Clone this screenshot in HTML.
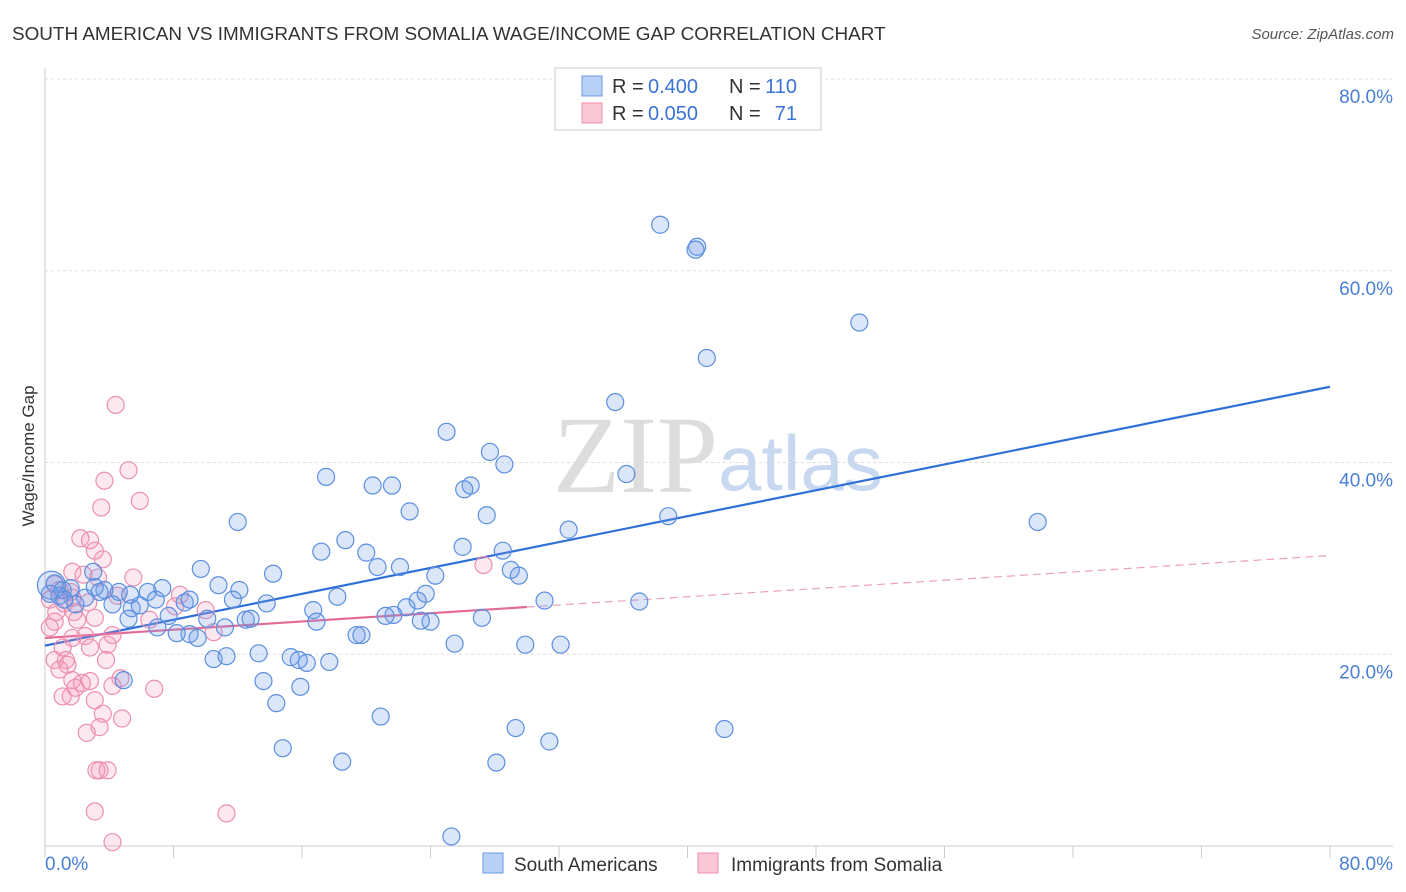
<!DOCTYPE html>
<html><head><meta charset="utf-8"><style>
body{margin:0;background:#fff;font-family:"Liberation Sans",sans-serif}
svg{display:block}
</style></head><body>
<svg id="chart" width="1406" height="892">
<text x="12" y="40" font-size="18.9" fill="#333">SOUTH AMERICAN VS IMMIGRANTS FROM SOMALIA WAGE/INCOME GAP CORRELATION CHART</text>
<text x="1394" y="39" font-size="15" fill="#555" font-style="italic" text-anchor="end">Source: ZipAtlas.com</text>
<g>
<text x="553" y="492" font-size="110" fill="#ddd" font-family="Liberation Serif,serif">ZIP</text>
<text x="718" y="490" font-size="78" fill="#c8d8f0">atlas</text>
</g>
<g id="grid"></g>
<g id="axes"></g>
<text transform="translate(34,456) rotate(-90)" font-size="17" fill="#333" text-anchor="middle">Wage/Income Gap</text>
<g id="trends"></g>
<g id="pts"></g>
<g>
<rect x="555" y="68" width="266" height="62" fill="#fff" stroke="#ccc"/>
<rect x="582" y="76" width="20" height="20" fill="#b8d0f5" stroke="#6a9ae5"/>
<rect x="582" y="103" width="20" height="20" fill="#fbc8d8" stroke="#ec8fb0"/>
<text x="612" y="93" font-size="20" fill="#333">R =</text>
<text x="648" y="93" font-size="20" fill="#3a72d8">0.400</text>
<text x="729" y="93" font-size="20" fill="#333">N =</text>
<text x="797" y="93" font-size="20" fill="#3a72d8" text-anchor="end">110</text>
<text x="612" y="120" font-size="20" fill="#333">R =</text>
<text x="648" y="120" font-size="20" fill="#3a72d8">0.050</text>
<text x="729" y="120" font-size="20" fill="#333">N =</text>
<text x="797" y="120" font-size="20" fill="#3a72d8" text-anchor="end">71</text>
</g>
<g>
<rect x="483" y="853" width="20" height="20" fill="#b8d0f5" stroke="#6a9ae5"/>
<text x="514" y="871" font-size="19" fill="#333">South Americans</text>
<rect x="698" y="853" width="20" height="20" fill="#fbc8d8" stroke="#ec8fb0"/>
<text x="731" y="871" font-size="19" fill="#333">Immigrants from Somalia</text>
</g>
</svg>
<script>
const blueX=[38.3,40.6,40.5,50.7,41.2,35.5,25.0,27.7,28.6,36.2,17.5,20.4,21.6,26.5,26.1,61.8,22.7,27.5,12.0,38.8,32.6,18.7,17.2,26.0,20.0,28.5,20.7,22.1,29.0,29.5,24.3,14.2,9.7,3.0,10.8,7.3,12.1,6.4,4.6,0.6,1.1,1.6,3.7,0.9,2.5,4.2,5.4,5.9,6.9,8.7,9.0,11.7,13.8,16.7,18.2,23.7,23.2,22.5,21.7,21.2,24.0,23.4,27.2,31.1,37.0,7.7,5.2,12.5,12.8,10.1,11.2,7.0,8.2,9.0,9.5,16.9,19.4,19.7,25.5,29.9,32.1,13.3,10.5,11.3,15.3,15.8,16.3,17.7,4.9,13.6,15.9,14.4,20.9,29.3,42.3,31.4,14.8,18.5,28.1,25.3,5.3,3.1,3.4,0.3,1.9,1.2,0.4];
const blueY=[64.8,62.5,62.2,54.6,50.9,46.3,43.2,41.1,39.8,38.8,38.5,37.6,37.6,37.6,37.2,33.8,34.9,34.5,33.8,34.4,33.0,31.9,30.7,31.2,30.6,30.8,29.1,29.1,28.8,28.2,28.2,28.4,28.9,28.6,27.2,26.9,26.7,26.5,26.5,27.4,26.7,26.9,26.7,26.1,25.9,25.2,24.8,25.1,25.7,25.4,25.7,25.7,25.3,24.6,26.0,26.3,25.6,24.9,24.1,24.0,23.4,23.5,23.8,25.6,25.5,24.0,23.7,23.6,23.7,23.7,22.8,22.8,22.2,22.1,21.7,23.4,22.0,22.0,21.1,21.0,21.0,20.1,19.5,19.8,19.7,19.4,19.1,19.2,17.3,17.2,16.6,14.9,13.5,12.3,12.2,10.9,10.2,8.8,8.7,1.0,26.2,27.0,26.5,26.3,25.2,25.7,27.2];
const pinkX=[4.4,5.2,3.7,5.9,3.5,2.2,2.8,3.1,3.6,1.7,5.5,2.4,3.3,0.6,0.9,1.6,0.3,1.2,2.7,4.5,8.4,10.0,6.5,2.0,0.6,0.3,1.7,2.5,3.9,1.1,2.8,0.6,1.3,3.8,1.4,0.9,4.7,1.7,2.8,2.3,4.2,6.8,1.9,1.1,1.6,3.1,3.6,4.8,3.4,2.6,3.2,3.4,3.9,3.1,11.3,4.2,27.3,10.5,8.1,1.8,0.7,4.2,1.7,3.1];
const pinkY=[46.0,39.2,38.1,36.0,35.3,32.1,31.9,30.8,29.9,28.6,28.0,28.3,28.0,27.3,26.7,26.5,25.7,25.3,25.4,26.1,26.2,24.6,23.6,23.6,23.4,22.8,21.7,21.9,21.0,20.7,20.7,19.4,19.4,19.4,18.9,18.4,17.5,17.3,17.2,17.0,16.7,16.4,16.5,15.6,15.6,15.2,13.8,13.3,12.4,11.8,7.9,7.9,7.9,3.6,3.4,0.4,29.3,22.3,25.0,24.4,24.4,22.0,25.9,23.8];
const blueTrend=[20.9,47.9];
const pinkTrend=[21.7,30.3];
const pinkSolidEnd=30;
const yTicks=[20,40,60,80];
const yTickLabels=["20.0%","40.0%","60.0%","80.0%"];
const xTickCount=10;

const X0=45,X1=1330,Y0=846,Y1=79;
const sx=v=>X0+(X1-X0)*v/80;
const sy=v=>Y0-(Y0-Y1)*v/80;
const NS="http://www.w3.org/2000/svg";
function mk(tag,attrs,parent){const e=document.createElementNS(NS,tag);for(const k in attrs)e.setAttribute(k,attrs[k]);parent.appendChild(e);return e;}
const grid=document.getElementById('grid'),axes=document.getElementById('axes');
yTicks.forEach((t,i)=>{
  const l=mk('line',{x1:X0,x2:1393,y1:sy(t),y2:sy(t),stroke:'#ddd','stroke-dasharray':'3,3'},grid);
  
  
  const tx=mk('text',{x:1393,y:sy(t)+24,'font-size':19,fill:'#4a7fd6','text-anchor':'end'},axes);
  tx.textContent=yTickLabels[i];
  
  
});
const ya=mk('line',{x1:X0,x2:X0,y1:68,y2:Y0,stroke:'#ccc'},axes);


const xa=mk('line',{x1:X0,x2:1393,y1:Y0,y2:Y0,stroke:'#ccc'},axes);


for(let i=0;i<=xTickCount;i++){
  const v=80*i/xTickCount;
  const t=mk('line',{x1:sx(v),x2:sx(v),y1:Y0,y2:Y0+12,stroke:'#ccc'},axes);
  
  
}
const xl0=mk('text',{x:45,y:870,'font-size':19,fill:'#4a7fd6'},axes);
xl0.textContent='0.0%';


const xl1=mk('text',{x:1393,y:870,'font-size':19,fill:'#4a7fd6','text-anchor':'end'},axes);
xl1.textContent='80.0%';



const pts=document.getElementById('pts');
pinkX.forEach((x,i)=>{
  const c=mk('circle',{cx:sx(x),cy:sy(pinkY[i]),r:8.5,fill:'rgba(245,150,180,0.22)',stroke:'#ec8fb0','stroke-width':1.2},pts);
  
  
});
blueX.forEach((x,i)=>{
  const c=mk('circle',{cx:sx(x),cy:sy(blueY[i]),r:i===blueX.length-1?14:8.5,fill:'rgba(110,155,230,0.25)',stroke:'#5b8fe0','stroke-width':1.2},pts);
  
  
});
const tr=document.getElementById('trends');
const bt=mk('line',{x1:sx(0),y1:sy(blueTrend[0]),x2:sx(80),y2:sy(blueTrend[1]),stroke:'#2f6fd8','stroke-width':2.2},tr);


const pAt=v=>pinkTrend[0]+(pinkTrend[1]-pinkTrend[0])*v/80;
const pt=mk('line',{x1:sx(0),y1:sy(pAt(0)),x2:sx(pinkSolidEnd),y2:sy(pAt(pinkSolidEnd)),stroke:'#e36a95','stroke-width':2.2},tr);


const pd=mk('line',{x1:sx(pinkSolidEnd),y1:sy(pAt(pinkSolidEnd)),x2:sx(80),y2:sy(pAt(80)),stroke:'#eea0bb','stroke-width':1.2,'stroke-dasharray':'8,5'},tr);


</script>
</body></html>
